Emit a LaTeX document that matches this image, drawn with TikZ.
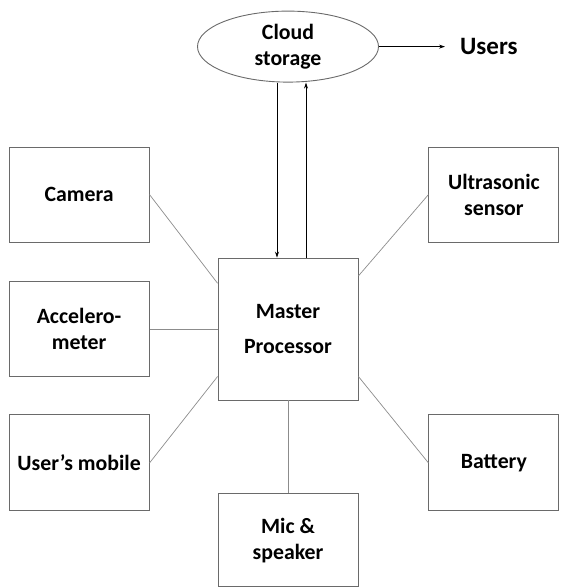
\documentclass[tikz,border=0pt]{standalone}
\usepackage{fontspec}
\setmainfont{Carlito}
\usetikzlibrary{arrows.meta,positioning,shapes.geometric}
\definecolor{boxgray}{HTML}{6A6A6A}
\definecolor{linkgray}{HTML}{8C8C8C}

\begin{document}
\begin{tikzpicture}[x=1pt,y=-1pt,>={Stealth[length=6pt,width=4pt]},
 box/.style={draw=boxgray,line width=.9pt,align=center,inner sep=0pt,minimum width=140pt,minimum height=95pt,font=\bfseries\fontsize{21.8}{26}\selectfont},
 link/.style={draw=linkgray,line width=.7pt},
 flow/.style={->,line width=.7pt}]
\useasboundingbox (0,0) rectangle (563,587);
\node[box,minimum height=142pt,font=\bfseries\fontsize{21.8}{35}\selectfont] (master) at (288,329) {Master\\Processor};
\node[box,above left=15pt and 68pt of master] (camera) {Camera};
\node[box,left=68pt of master] (accel) {Accelero-\\meter};
\node[box,minimum height=96pt,below left=14pt and 68pt of master] (mobile) {User’s mobile};
\node[box,minimum width=130pt,above right=15pt and 70pt of master] (ultra) {Ultrasonic\\sensor};
\node[box,minimum width=130pt,minimum height=96pt,below right=14pt and 70pt of master] (battery) {Battery};
\node[box,minimum height=93pt,below=93pt of master] (mic) {Mic \&\\speaker};
\node[box,ellipse,minimum width=181pt,minimum height=71pt,above=175pt of master] (cloud) {Cloud\\storage};
\node[inner sep=0pt,right=81pt of cloud,font=\bfseries\fontsize{25}{30}\selectfont] (users) {Users};
% sensors and peripherals
\draw[link] (camera.east)--(master.147);
\draw[link] (accel.east)--(master.west);
\draw[link] (mobile.east)--(master.214);
\draw[link] (ultra.west)--(master.37);
\draw[link] (battery.west)--(master.-34);
\draw[link] (master.south)--(mic.north);
% data to and from the cloud
\draw[flow] ([xshift=-11pt]cloud.south)--([xshift=-11pt]master.north);
\draw[flow] ([xshift=18pt]master.north)--([xshift=18pt]cloud.south);
\draw[flow,shorten >=15pt] (cloud.east)--(users.west);
\end{tikzpicture}
\end{document}
